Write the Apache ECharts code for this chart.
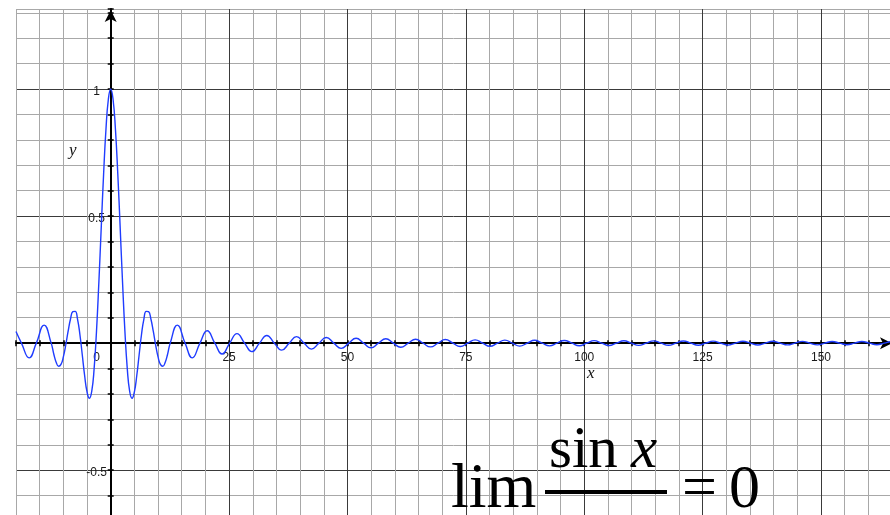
<!DOCTYPE html>
<html><head><meta charset="utf-8">
<script src="https://cdn.jsdelivr.net/npm/echarts@6/dist/echarts.min.js"></script>
<style>html,body{margin:0;padding:0;background:#fff}#c{width:890px;height:515px}</style>
</head><body><div id="c"></div>
<script>
// sin(x)/x: zeros, extrema and extra points on the large lobes
const xValues = [
  -20, -18.85, -17.22, -15.71, -14.07, -12.57,
  -12, -11.5, -11, -10.5, -10, -9.5, -9, -8.5, -8, -7.5, -7, -6.5, -6, -5.5, -5, -4.5, -4, -3.5, -3, -2.5, -2, -1.5, -1, -0.5,
  0,
  0.5, 1, 1.5, 2, 2.5, 3, 3.5, 4, 4.5, 5, 5.5, 6, 6.5, 7, 7.5, 8, 8.5, 9, 9.5, 10, 10.5, 11, 11.5, 12,
  12.57, 14.07, 15.71, 17.22, 18.85, 20.37, 21.99, 23.52, 25.13, 26.67, 28.27, 29.81, 31.42, 32.96, 34.56, 36.10,
  37.70, 39.24, 40.84, 42.39, 43.98, 45.53, 47.12, 48.67, 50.27, 51.82, 53.41, 54.96, 56.55, 58.10, 59.69, 61.24,
  62.83, 64.39, 65.97, 67.53, 69.12, 70.67, 72.26, 73.81, 75.40, 76.96, 78.54, 80.10, 81.68, 83.24, 84.82, 86.38,
  87.96, 89.52, 91.11, 92.67, 94.25, 95.81, 97.39, 98.95, 100.53, 102.09, 103.67, 105.23, 106.81, 108.38, 109.96, 111.52,
  113.10, 114.66, 116.24, 117.80, 119.38, 120.94, 122.52, 124.08, 125.66, 127.23, 128.81, 130.37, 131.95, 133.51, 135.09, 136.65,
  138.23, 139.79, 141.37, 142.94, 144.51, 146.08, 147.65, 149.22, 150.80, 152.36, 153.94, 155.50, 157.08, 158.64, 160.22, 161.79,
  163.36, 164.93, 166.50
];
const yValues = [
  0.0456, 0, -0.0580, 0, 0.0709, 0,
  -0.0447, -0.0761, -0.0909, -0.0838, -0.0544, -0.0079, 0.0458, 0.0939, 0.1237, 0.1251, 0.0939, 0.0331, -0.0466, -0.1283, -0.1918, -0.2172, -0.1892, -0.1002, 0.0470, 0.2394, 0.4546, 0.6650, 0.8415, 0.9589,
  1,
  0.9589, 0.8415, 0.6650, 0.4546, 0.2394, 0.0470, -0.1002, -0.1892, -0.2172, -0.1918, -0.1283, -0.0466, 0.0331, 0.0939, 0.1251, 0.1237, 0.0939, 0.0458, -0.0079, -0.0544, -0.0838, -0.0909, -0.0761, -0.0447,
  0, 0.0709, 0, -0.0580, 0, 0.0490, 0, -0.0425, 0, 0.0375, 0, -0.0335, 0, 0.0303, 0, -0.0277,
  0, 0.0255, 0, -0.0236, 0, 0.0220, 0, -0.0205, 0, 0.0193, 0, -0.0182, 0, 0.0172, 0, -0.0163,
  0, 0.0155, 0, -0.0148, 0, 0.0141, 0, -0.0135, 0, 0.0130, 0, -0.0125, 0, 0.0120, 0, -0.0116,
  0, 0.0112, 0, -0.0108, 0, 0.0104, 0, -0.0101, 0, 0.0098, 0, -0.0095, 0, 0.0092, 0, -0.0090,
  0, 0.0087, 0, -0.0085, 0, 0.0083, 0, -0.0081, 0, 0.0079, 0, -0.0077, 0, 0.0075, 0, -0.0073,
  0, 0.0072, 0, -0.0070, 0, 0.0068, 0, -0.0067, 0, 0.0066, 0, -0.0064, 0, 0.0063, 0, -0.0062,
  0, 0.0061, 0
];
const xTickLabels = [0, 25, 50, 75, 100, 125, 150];
const yTickLabels = [-0.5, 0.5, 1];

const W = 890, H = 515;
const X_MIN = -20, X_MAX = 165, Y_MIN = -0.7, Y_MAX = 1.315;
const G = {left: 16, right: -2, top: 9, bottom: -6};
// axes sit on the zero lines: shift them from the grid edges by the pixel distance to zero
const gw = W - G.left - G.right, gh = H - G.top - G.bottom;
const yAxisShift = -gw * (0 - X_MIN) / (X_MAX - X_MIN);
const xAxisShift = -gh * (0 - Y_MIN) / (Y_MAX - Y_MIN);

const MINOR = '#a8a8a8', MAJOR = '#3a3a3a';
const FONT = 'Liberation Sans, Arial, sans-serif';
const chart = echarts.init(document.getElementById('c'), null, {renderer: 'canvas'});
const data = xValues.map((x, i) => [x, yValues[i]]);
const near = (v, list) => list.find(t => Math.abs(t - v) < 1e-6);

function xAxisDef(main) {
  return {
    type: 'value', min: X_MIN, max: X_MAX, interval: 5, gridIndex: 0, position: 'bottom', offset: xAxisShift,
    axisLine: main ? {show: true, onZero: false, symbol: ['none', 'arrow'], symbolSize: [9, 12], symbolOffset: [0, 0],
                      lineStyle: {color: '#000', width: 2}} : {show: false, onZero: false},
    axisTick: {show: true, inside: !main, length: 3, lineStyle: {color: '#000', width: 1.5}},
    axisLabel: main ? {
      show: true, margin: 9, color: '#1a1a1a', fontSize: 12, fontFamily: FONT,
      formatter: v => {
        const t = near(v, xTickLabels);
        if (t === undefined) return '';
        return t === 0 ? '{z|0}' : String(t);
      },
      rich: {z: {padding: [0, 28, 0, 0], fontSize: 12, color: '#1a1a1a', fontFamily: FONT}}
    } : {show: false},
    splitLine: main ? {show: true, lineStyle: {color: [MINOR, MINOR, MINOR, MINOR, MAJOR], width: 1}} : {show: false}
  };
}
function yAxisDef(main) {
  return {
    type: 'value', min: Y_MIN, max: Y_MAX, interval: 0.1, gridIndex: 0, position: 'left', offset: yAxisShift,
    axisLine: main ? {show: true, onZero: false, symbol: ['none', 'arrow'], symbolSize: [9, 12], symbolOffset: [0, -1],
                      lineStyle: {color: '#000', width: 2}} : {show: false, onZero: false},
    axisTick: {show: true, inside: !main, length: 3, lineStyle: {color: '#000', width: 1.5}},
    axisLabel: main ? {
      show: true, margin: 14, align: 'center', verticalAlign: 'top', lineHeight: 5,
      color: '#1a1a1a', fontSize: 12, fontFamily: FONT,
      formatter: v => {
        const t = near(v, yTickLabels);
        return t === undefined ? '' : String(t);
      }
    } : {show: false},
    splitLine: main ? {show: true, lineStyle: {color: [MINOR, MINOR, MAJOR, MINOR, MINOR], width: 1}} : {show: false}
  };
}

chart.setOption({
  animation: false,
  backgroundColor: '#fff',
  grid: Object.assign({containLabel: false, outerBoundsMode: 'none'}, G),
  xAxis: [xAxisDef(true), xAxisDef(false)],
  yAxis: [yAxisDef(true), yAxisDef(false)],
  series: [{
    type: 'line', xAxisIndex: 0, yAxisIndex: 0,
    data: data, showSymbol: false, smooth: 0.5,
    lineStyle: {color: '#1f3cff', width: 1.4},
    z: 5
  }],
  graphic: [
    {type: 'text', left: 69, top: 142, z: 10, style: {text: 'y', font: 'italic 17px "Liberation Serif", serif', fill: '#111'}},
    {type: 'text', left: 587, top: 365, z: 10, style: {text: 'x', font: 'italic 17px "Liberation Serif", serif', fill: '#111'}},
    {type: 'text', z: 10, x: 451, y: 490, style: {text: 'lim', font: '64px "Liberation Serif", serif', fill: '#000', verticalAlign: 'middle', align: 'left'}},
    {type: 'text', z: 10, x: 549, y: 451, style: {text: 'sin', font: '59px "Liberation Serif", serif', fill: '#000', verticalAlign: 'middle', align: 'left'}},
    {type: 'text', z: 10, x: 631, y: 451, style: {text: 'x', font: 'italic 59px "Liberation Serif", serif', fill: '#000', verticalAlign: 'middle', align: 'left'}},
    {type: 'rect', z: 10, shape: {x: 545, y: 490, width: 122, height: 4}, style: {fill: '#000'}},
    {type: 'text', z: 10, x: 682, y: 491, style: {text: '=', font: '62px "Liberation Serif", serif', fill: '#000', verticalAlign: 'middle', align: 'left'}},
    {type: 'text', z: 10, x: 729, y: 491, style: {text: '0', font: '62px "Liberation Serif", serif', fill: '#000', verticalAlign: 'middle', align: 'left'}}
  ]
});
</script>
</body></html>
